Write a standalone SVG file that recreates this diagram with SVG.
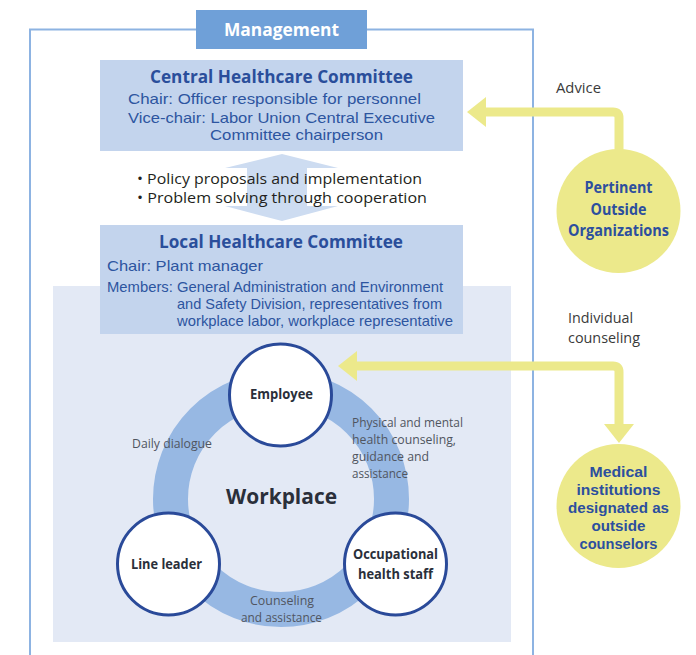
<svg xmlns="http://www.w3.org/2000/svg" width="696" height="655" viewBox="0 0 696 655">
<style>
text{font-family:"Open Sans","Noto Sans","Liberation Sans",sans-serif}
.head{font-size:17px;font-weight:bold;fill:#2a4e9b}
.body{font-family:"Liberation Sans",Arial,sans-serif;font-size:14.5px;fill:#2d55a0}
.bul{font-size:15px;fill:#231f20}
.lbl{font-size:14px;fill:#3a3a3a}
.small{font-size:12px;fill:#505560}
.node{font-size:14px;font-weight:bold;fill:#2a2f3a}
.ext{font-size:16px;font-weight:bold;fill:#2c4f9e}
.ext2{font-family:"Liberation Sans",Arial,sans-serif;font-size:15.5px;font-weight:bold;fill:#2c4f9e}
.ynode{fill:#ece98b}
.wnode{fill:#fff;stroke:#2a4a99;stroke-width:3}
.arrow{fill:none;stroke:#ece98b;stroke-width:9}
</style>
<defs>
<marker id="ah" markerUnits="userSpaceOnUse" markerWidth="20" markerHeight="32" viewBox="0 -16 20 32" refX="0" refY="0" orient="auto-start-reverse">
<polygon points="0,-15 19,0 0,15" fill="#ece98b"/>
</marker>
</defs>
<rect width="696" height="655" fill="#fff"/>
<g id="frame">
<path d="M30 655 V29.5 H533 V655" fill="none" stroke="#8db3e2" stroke-width="2"/>
</g>
<g id="management">
<rect x="196" y="10" width="171" height="39" fill="#6fa0d8"/>
<text x="281.5" y="36" text-anchor="middle" font-size="17" font-weight="bold" fill="#fff" textLength="115" lengthAdjust="spacingAndGlyphs">Management</text>
</g>
<g id="workplace-area">
<rect x="53" y="286" width="458" height="356" fill="#e3e9f5"/>
</g>
<g id="central-committee">
<rect x="100" y="60" width="363" height="91" fill="#c3d4ed"/>
<text class="head" x="281.5" y="83" text-anchor="middle" textLength="263" lengthAdjust="spacingAndGlyphs">Central Healthcare Committee</text>
<text class="body" x="128" y="104" textLength="293" lengthAdjust="spacingAndGlyphs">Chair: Officer responsible for personnel</text>
<text class="body" x="128" y="123" textLength="307" lengthAdjust="spacingAndGlyphs">Vice-chair: Labor Union Central Executive</text>
<text class="body" x="210" y="140" textLength="173" lengthAdjust="spacingAndGlyphs">Committee chairperson</text>
</g>
<g id="policy-arrow">
<polygon points="282,154 338,168 307,168 307,206 338,206 282,221 225,206 247,206 247,168 225,168" fill="#cddcf1"/>
<text class="bul" x="137" y="184" textLength="285" lengthAdjust="spacingAndGlyphs">• Policy proposals and implementation</text>
<text class="bul" x="137" y="203" textLength="290" lengthAdjust="spacingAndGlyphs">• Problem solving through cooperation</text>
</g>
<g id="local-committee">
<rect x="100" y="225" width="363" height="109" fill="#c3d4ed"/>
<text class="head" x="281" y="248" text-anchor="middle" textLength="244" lengthAdjust="spacingAndGlyphs">Local Healthcare Committee</text>
<text class="body" x="107" y="271" textLength="156" lengthAdjust="spacingAndGlyphs">Chair: Plant manager</text>
<text class="body" x="107" y="292" textLength="336" lengthAdjust="spacingAndGlyphs">Members: General Administration and Environment</text>
<text class="body" x="177" y="309" textLength="265" lengthAdjust="spacingAndGlyphs">and Safety Division, representatives from</text>
<text class="body" x="177" y="326" textLength="276" lengthAdjust="spacingAndGlyphs">workplace labor, workplace representative</text>
</g>
<g id="workplace-ring">
<circle cx="281" cy="499" r="110.5" fill="none" stroke="#97b8e3" stroke-width="35"/>
<text x="281.5" y="504" text-anchor="middle" font-size="22" font-weight="bold" fill="#2a2f3a" textLength="111" lengthAdjust="spacingAndGlyphs">Workplace</text>
<text class="small" x="132" y="448" textLength="80" lengthAdjust="spacingAndGlyphs">Daily dialogue</text>
<text class="small" x="352" y="427" textLength="111" lengthAdjust="spacingAndGlyphs">Physical and mental</text>
<text class="small" x="352" y="444" textLength="104" lengthAdjust="spacingAndGlyphs">health counseling,</text>
<text class="small" x="352" y="461" textLength="77" lengthAdjust="spacingAndGlyphs">guidance and</text>
<text class="small" x="352" y="478" textLength="56" lengthAdjust="spacingAndGlyphs">assistance</text>
<text class="small" x="282" y="605" text-anchor="middle" textLength="64" lengthAdjust="spacingAndGlyphs">Counseling</text>
<text class="small" x="281.5" y="622" text-anchor="middle" textLength="81" lengthAdjust="spacingAndGlyphs">and assistance</text>
</g>
<g id="connectors">
<path class="arrow" d="M619 150 V118 Q619 112 613 112 H486" marker-end="url(#ah)"/>
<path class="arrow" d="M357 366 H613 Q619 366 619 372 V424" marker-start="url(#ah)" marker-end="url(#ah)"/>
<text class="lbl" x="556" y="93" textLength="45" lengthAdjust="spacingAndGlyphs">Advice</text>
<text class="lbl" x="568" y="323" textLength="65" lengthAdjust="spacingAndGlyphs">Individual</text>
<text class="lbl" x="568" y="343" textLength="72" lengthAdjust="spacingAndGlyphs">counseling</text>
</g>
<g id="employee">
<circle class="wnode" cx="280.5" cy="395" r="51"/>
<text class="node" x="281.5" y="399" text-anchor="middle" textLength="63" lengthAdjust="spacingAndGlyphs">Employee</text>
</g>
<g id="line-leader">
<circle class="wnode" cx="168.5" cy="564" r="51"/>
<text class="node" x="166.5" y="569" text-anchor="middle" textLength="71" lengthAdjust="spacingAndGlyphs">Line leader</text>
</g>
<g id="occupational-health-staff">
<circle class="wnode" cx="395.5" cy="564" r="51"/>
<text class="node" x="395.5" y="559" text-anchor="middle" textLength="85" lengthAdjust="spacingAndGlyphs">Occupational</text>
<text class="node" x="395.5" y="579" text-anchor="middle" textLength="75" lengthAdjust="spacingAndGlyphs">health staff</text>
</g>
<g id="pertinent-outside-organizations">
<circle class="ynode" cx="618.5" cy="211" r="62"/>
<text class="ext" x="618.5" y="193" text-anchor="middle" textLength="68" lengthAdjust="spacingAndGlyphs">Pertinent</text>
<text class="ext" x="618.5" y="215" text-anchor="middle" textLength="56" lengthAdjust="spacingAndGlyphs">Outside</text>
<text class="ext" x="618.5" y="236" text-anchor="middle" textLength="101" lengthAdjust="spacingAndGlyphs">Organizations</text>
</g>
<g id="medical-institutions">
<circle class="ynode" cx="618.5" cy="506" r="62"/>
<text class="ext2" x="618.5" y="477" text-anchor="middle" textLength="58" lengthAdjust="spacingAndGlyphs">Medical</text>
<text class="ext2" x="618.5" y="495" text-anchor="middle" textLength="84" lengthAdjust="spacingAndGlyphs">institutions</text>
<text class="ext2" x="618.5" y="513" text-anchor="middle" textLength="101" lengthAdjust="spacingAndGlyphs">designated as</text>
<text class="ext2" x="618.5" y="531" text-anchor="middle" textLength="54" lengthAdjust="spacingAndGlyphs">outside</text>
<text class="ext2" x="618.5" y="549" text-anchor="middle" textLength="78" lengthAdjust="spacingAndGlyphs">counselors</text>
</g>
</svg>
